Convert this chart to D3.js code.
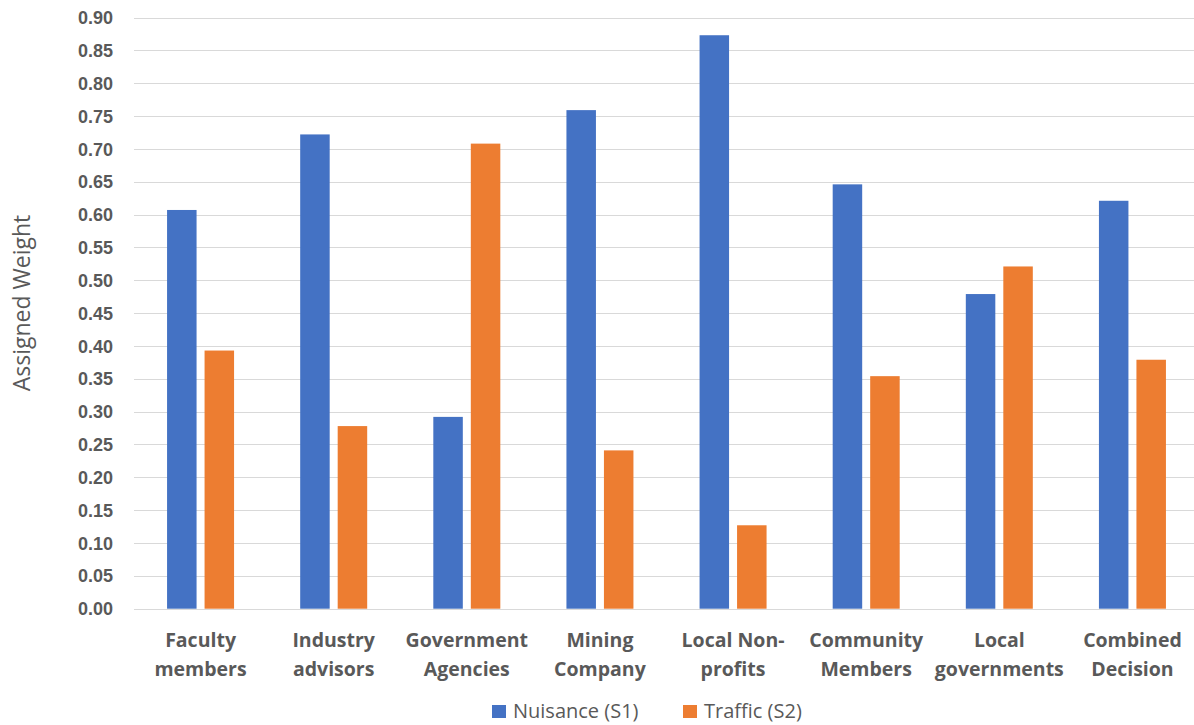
<!DOCTYPE html>
<html>
<head>
<meta charset="utf-8">
<script src="https://cdn.jsdelivr.net/npm/d3@7"></script>
<style>
  html, body { margin: 0; padding: 0; background: #ffffff; }
  svg { display: block; font-family: "Open Sans", "Noto Sans", sans-serif; }
</style>
</head>
<body>
<svg id="chart" width="1194" height="725"></svg>
<script>
// Stakeholder groups (two-line labels) and the weight each gave to the two scenarios
const categories = [
  ["Faculty", "members"],
  ["Industry", "advisors"],
  ["Government", "Agencies"],
  ["Mining", "Company"],
  ["Local Non-", "profits"],
  ["Community", "Members"],
  ["Local", "governments"],
  ["Combined", "Decision"]
];
const nuisance = [0.607, 0.722, 0.292, 0.759, 0.873, 0.646, 0.479, 0.621];
const traffic  = [0.393, 0.278, 0.708, 0.241, 0.127, 0.354, 0.521, 0.379];
const seriesNames = ["Nuisance (S1)", "Traffic (S2)"];
const yTicks = [0, 0.05, 0.10, 0.15, 0.20, 0.25, 0.30, 0.35, 0.40, 0.45,
                0.50, 0.55, 0.60, 0.65, 0.70, 0.75, 0.80, 0.85, 0.90];

const colors = ["#4472C4", "#ED7D31"];
const textColor = "#595959";

const svg = d3.select("#chart");
const plot = { left: 134, right: 1199, top: 17.5, bottom: 608.7 };

const keys = categories.map((c, i) => i);
const x = d3.scaleBand().domain(keys).range([plot.left, plot.right]).paddingInner(0).paddingOuter(0);
const y = d3.scaleLinear().domain([0, 0.9]).range([plot.bottom, plot.top]);

// horizontal gridlines
svg.append("g")
  .selectAll("line")
  .data(yTicks)
  .join("line")
  .attr("x1", plot.left)
  .attr("x2", plot.right)
  .attr("y1", d => Math.round(y(d)) + 0.5)
  .attr("y2", d => Math.round(y(d)) + 0.5)
  .attr("stroke", "#d9d9d9")
  .attr("stroke-width", 1);

// y axis tick labels
const yAxis = d3.axisLeft(y).tickValues(yTicks).tickFormat(d3.format(".2f")).tickSize(0).tickPadding(0);
const yg = svg.append("g").attr("transform", `translate(113,0)`).call(yAxis);
yg.select(".domain").remove();
yg.selectAll("text")
  .attr("fill", textColor)
  .style("font-size", "18px")
  .style("font-weight", "700")
  .attr("dy", "0.34em");

// bars
const barW = 29.5, gap = 8;
const band = x.bandwidth();
const groupW = barW * 2 + gap;
const series = [nuisance, traffic];
series.forEach((vals, s) => {
  svg.append("g")
    .selectAll("rect")
    .data(vals)
    .join("rect")
    .attr("x", (d, i) => x(i) + (band - groupW) / 2 + s * (barW + gap))
    .attr("width", barW)
    .attr("y", d => y(d))
    .attr("height", d => y(0) - y(d))
    .attr("fill", colors[s]);
});

// category labels
const xg = svg.append("g");
categories.forEach((lines, i) => {
  const t = xg.append("text")
    .attr("x", x(i) + band / 2)
    .attr("text-anchor", "middle")
    .attr("fill", textColor)
    .style("font-size", "19.5px")
    .style("font-weight", "700");
  lines.forEach((ln, k) => {
    t.append("tspan")
      .attr("x", x(i) + band / 2)
      .attr("y", 647 + k * 28.5)
      .text(ln);
  });
});

// y axis title
svg.append("text")
  .attr("transform", "translate(30,303) rotate(-90)")
  .attr("text-anchor", "middle")
  .attr("fill", textColor)
  .style("font-size", "23px")
  .text("Assigned Weight");

// legend
const legendX = [492, 683];
seriesNames.forEach((name, s) => {
  const g = svg.append("g").attr("transform", `translate(${legendX[s]},705)`);
  g.append("rect").attr("width", 14).attr("height", 13).attr("fill", colors[s]);
  g.append("text")
    .attr("x", 21)
    .attr("y", 13)
    .attr("fill", textColor)
    .style("font-size", "20px")
    .text(name);
});
</script>
</body>
</html>
